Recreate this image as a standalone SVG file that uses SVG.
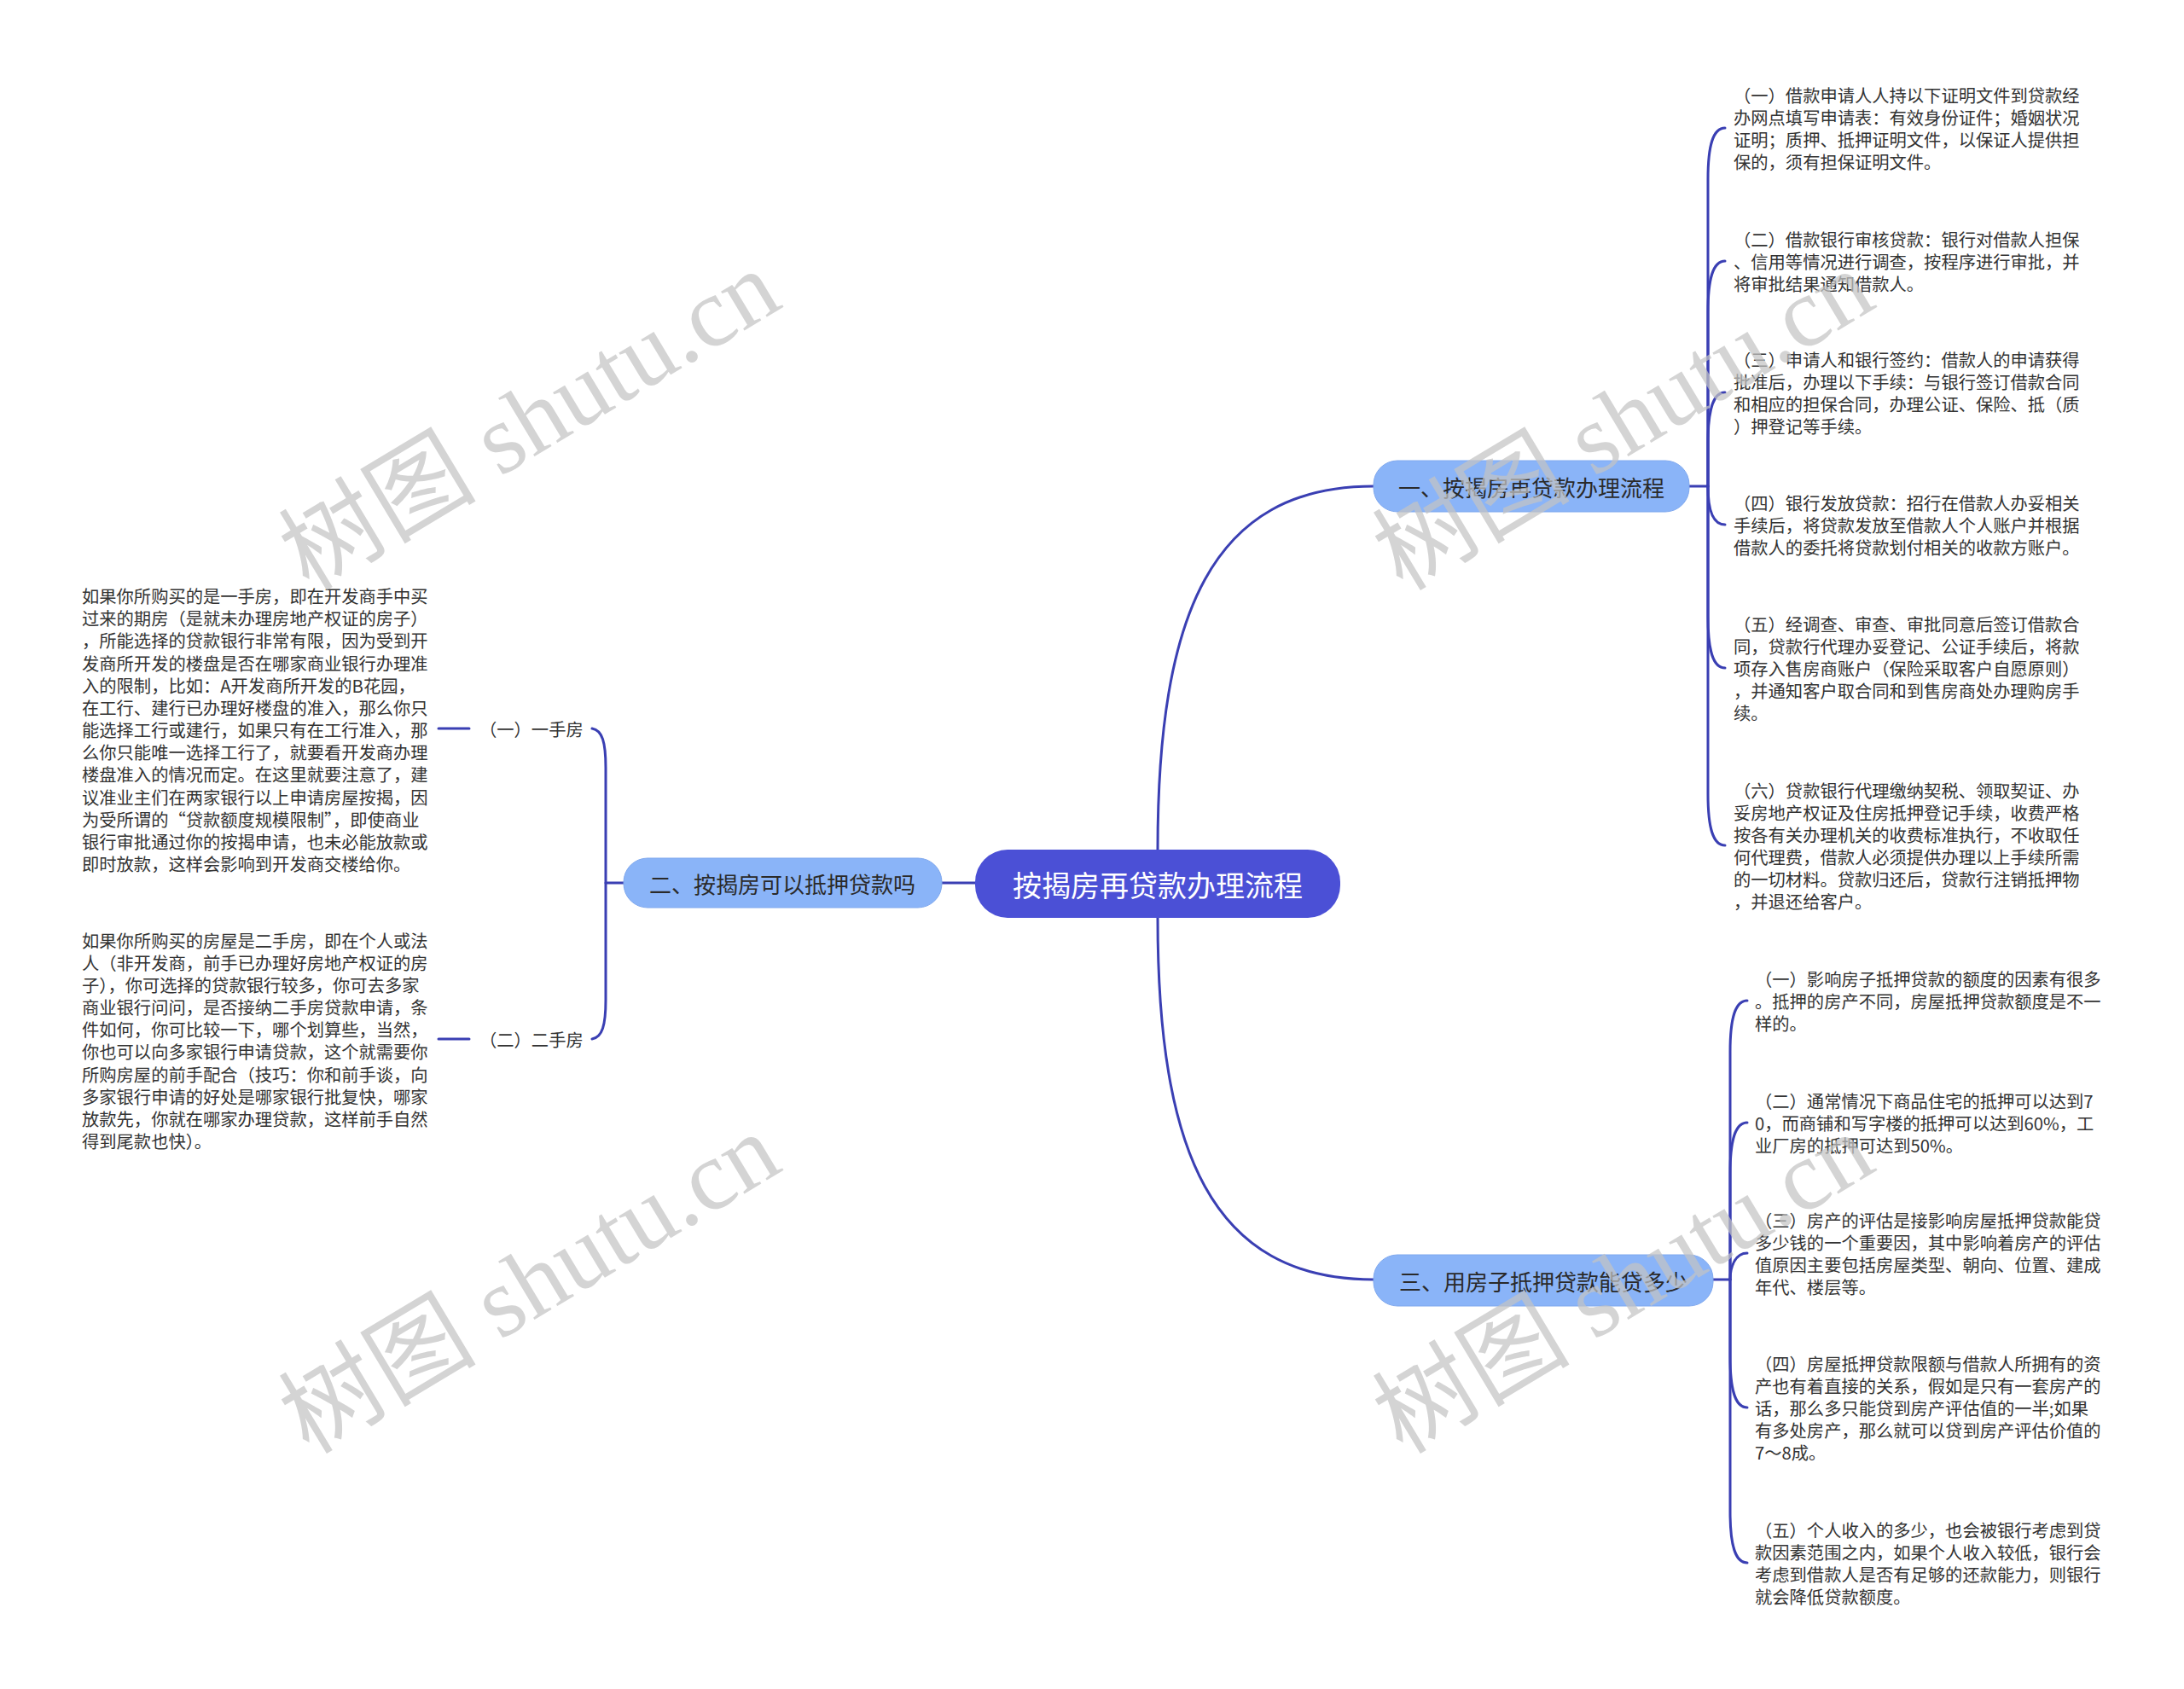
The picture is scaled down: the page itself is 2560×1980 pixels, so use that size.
<svg xmlns="http://www.w3.org/2000/svg" width="2560" height="1980" viewBox="0 0 2560 1980">
<style>
.conn{fill:none;stroke:#3a3fb3;stroke-width:3;stroke-linecap:round}
.t{font-family:"Noto Sans CJK SC","Noto Sans",sans-serif;fill:#333333;font-size:20.3px;dominant-baseline:central}
.root{fill:#4b50d6}
.br{fill:#8ab4f8;stroke:#7fa8ee;stroke-width:1}
.rt{font-family:"Noto Sans CJK SC","Noto Sans",sans-serif;fill:#ffffff;font-size:34px;dominant-baseline:central;text-anchor:middle}
.bt{font-family:"Noto Sans CJK SC","Noto Sans",sans-serif;fill:#2a2a2a;font-size:26px;dominant-baseline:central;text-anchor:middle}
.wm{font-family:"Liberation Serif","Noto Sans CJK SC",serif;font-size:116px;fill:#c4c4c4;opacity:0.72}
</style>
<rect width="2560" height="1980" fill="#ffffff"/>
<g id="connectors">
<path class="conn" d="M1357 996 C1357 720 1420 570 1610 570"/>
<path class="conn" d="M1357 1076 C1357 1350 1420 1500 1610 1500"/>
<path class="conn" d="M1143 1035 L1104 1035"/>
<path class="conn" d="M731 1035 L710 1035"/>
<path class="conn" d="M694 854 C706 856 710 870 710 900 L710 1172 C710 1202 706 1216 694 1218"/>
<path class="conn" d="M514 854 L550 854"/>
<path class="conn" d="M514 1218 L550 1218"/>
<path class="conn" d="M1980 570 L2002 570"/>
<path class="conn" d="M2002 570 L2002 210 C2002 170 2008 150 2022 150"/>
<path class="conn" d="M2002 570 L2002 366 C2002 326 2008 306 2022 306"/>
<path class="conn" d="M2002 570 L2002 520 C2002 480 2008 460 2022 460"/>
<path class="conn" d="M2002 570 C2002 600 2008 615 2022 615"/>
<path class="conn" d="M2002 570 L2002 723 C2002 763 2008 783 2022 783"/>
<path class="conn" d="M2002 570 L2002 931 C2002 971 2008 991 2022 991"/>
<path class="conn" d="M2008 1500 L2028 1500"/>
<path class="conn" d="M2028 1500 L2028 1233 C2028 1193 2034 1173 2048 1173"/>
<path class="conn" d="M2028 1500 L2028 1376 C2028 1336 2034 1316 2048 1316"/>
<path class="conn" d="M2028 1500 C2028 1485 2034 1469 2048 1469"/>
<path class="conn" d="M2028 1500 L2028 1590 C2028 1630 2034 1650 2048 1650"/>
<path class="conn" d="M2028 1500 L2028 1772 C2028 1812 2034 1832 2048 1832"/>
</g>
<g id="root">
<rect class="root" x="1143" y="996" width="428" height="80" rx="38"/>
<text class="rt" x="1357" y="1036">按揭房再贷款办理流程</text>
</g>
<g id="branch1">
<rect class="br" x="1610" y="540" width="370" height="60" rx="28"/>
<text class="bt" x="1795" y="570">一、按揭房再贷款办理流程</text>
</g>
<g id="branch2">
<rect class="br" x="731" y="1006" width="373" height="58" rx="28"/>
<text class="bt" x="917" y="1035">二、按揭房可以抵押贷款吗</text>
</g>
<g id="branch3">
<rect class="br" x="1610" y="1471" width="398" height="60" rx="28"/>
<text class="bt" x="1809" y="1501">三、用房子抵押贷款能贷多少</text>
</g>
<g id="label-yishoufang"><text class="t" x="562" y="854">（一）一手房</text></g>
<g id="label-ershoufang"><text class="t" x="562" y="1218">（二）二手房</text></g>
<g id="text-yishoufang">
<text class="t">
<tspan x="96" y="698">如果你所购买的是一手房，即在开发商手中买</tspan>
<tspan x="96" y="724">过来的期房（是就未办理房地产权证的房子）</tspan>
<tspan x="96" y="750">，所能选择的贷款银行非常有限，因为受到开</tspan>
<tspan x="96" y="777">发商所开发的楼盘是否在哪家商业银行办理准</tspan>
<tspan x="96" y="803">入的限制，比如：A开发商所开发的B花园，</tspan>
<tspan x="96" y="829">在工行、建行已办理好楼盘的准入，那么你只</tspan>
<tspan x="96" y="855">能选择工行或建行，如果只有在工行准入，那</tspan>
<tspan x="96" y="881">么你只能唯一选择工行了，就要看开发商办理</tspan>
<tspan x="96" y="907">楼盘准入的情况而定。在这里就要注意了，建</tspan>
<tspan x="96" y="934">议准业主们在两家银行以上申请房屋按揭，因</tspan>
<tspan x="96" y="960">为受所谓的“贷款额度规模限制”，即使商业</tspan>
<tspan x="96" y="986">银行审批通过你的按揭申请，也未必能放款或</tspan>
<tspan x="96" y="1012">即时放款，这样会影响到开发商交楼给你。</tspan>
</text>
</g>
<g id="text-ershoufang">
<text class="t">
<tspan x="96" y="1102">如果你所购买的房屋是二手房，即在个人或法</tspan>
<tspan x="96" y="1128">人（非开发商，前手已办理好房地产权证的房</tspan>
<tspan x="96" y="1154">子），你可选择的贷款银行较多，你可去多家</tspan>
<tspan x="96" y="1180">商业银行问问，是否接纳二手房贷款申请，条</tspan>
<tspan x="96" y="1206">件如何，你可比较一下，哪个划算些，当然，</tspan>
<tspan x="96" y="1232">你也可以向多家银行申请贷款，这个就需要你</tspan>
<tspan x="96" y="1259">所购房屋的前手配合（技巧：你和前手谈，向</tspan>
<tspan x="96" y="1285">多家银行申请的好处是哪家银行批复快，哪家</tspan>
<tspan x="96" y="1311">放款先，你就在哪家办理贷款，这样前手自然</tspan>
<tspan x="96" y="1337">得到尾款也快）。</tspan>
</text>
</g>
<g id="b1-c1">
<text class="t">
<tspan x="2032" y="111">（一）借款申请人人持以下证明文件到贷款经</tspan>
<tspan x="2032" y="137">办网点填写申请表：有效身份证件；婚姻状况</tspan>
<tspan x="2032" y="163">证明；质押、抵押证明文件，以保证人提供担</tspan>
<tspan x="2032" y="189">保的，须有担保证明文件。</tspan>
</text>
</g>
<g id="b1-c2">
<text class="t">
<tspan x="2032" y="280">（二）借款银行审核贷款：银行对借款人担保</tspan>
<tspan x="2032" y="306">、信用等情况进行调查，按程序进行审批，并</tspan>
<tspan x="2032" y="332">将审批结果通知借款人。</tspan>
</text>
</g>
<g id="b1-c3">
<text class="t">
<tspan x="2032" y="421">（三）申请人和银行签约：借款人的申请获得</tspan>
<tspan x="2032" y="447">批准后，办理以下手续：与银行签订借款合同</tspan>
<tspan x="2032" y="473">和相应的担保合同，办理公证、保险、抵（质</tspan>
<tspan x="2032" y="499">）押登记等手续。</tspan>
</text>
</g>
<g id="b1-c4">
<text class="t">
<tspan x="2032" y="589">（四）银行发放贷款：招行在借款人办妥相关</tspan>
<tspan x="2032" y="615">手续后，将贷款发放至借款人个人账户并根据</tspan>
<tspan x="2032" y="641">借款人的委托将贷款划付相关的收款方账户。</tspan>
</text>
</g>
<g id="b1-c5">
<text class="t">
<tspan x="2032" y="731">（五）经调查、审查、审批同意后签订借款合</tspan>
<tspan x="2032" y="757">同，贷款行代理办妥登记、公证手续后，将款</tspan>
<tspan x="2032" y="783">项存入售房商账户（保险采取客户自愿原则）</tspan>
<tspan x="2032" y="809">，并通知客户取合同和到售房商处办理购房手</tspan>
<tspan x="2032" y="835">续。</tspan>
</text>
</g>
<g id="b1-c6">
<text class="t">
<tspan x="2032" y="926">（六）贷款银行代理缴纳契税、领取契证、办</tspan>
<tspan x="2032" y="952">妥房地产权证及住房抵押登记手续，收费严格</tspan>
<tspan x="2032" y="978">按各有关办理机关的收费标准执行，不收取任</tspan>
<tspan x="2032" y="1004">何代理费，借款人必须提供办理以上手续所需</tspan>
<tspan x="2032" y="1030">的一切材料。贷款归还后，贷款行注销抵押物</tspan>
<tspan x="2032" y="1056">，并退还给客户。</tspan>
</text>
</g>
<g id="b3-c1">
<text class="t">
<tspan x="2057" y="1147">（一）影响房子抵押贷款的额度的因素有很多</tspan>
<tspan x="2057" y="1173">。抵押的房产不同，房屋抵押贷款额度是不一</tspan>
<tspan x="2057" y="1199">样的。</tspan>
</text>
</g>
<g id="b3-c2">
<text class="t">
<tspan x="2057" y="1290">（二）通常情况下商品住宅的抵押可以达到7</tspan>
<tspan x="2057" y="1316">0，而商铺和写字楼的抵押可以达到60%，工</tspan>
<tspan x="2057" y="1342">业厂房的抵押可达到50%。</tspan>
</text>
</g>
<g id="b3-c3">
<text class="t">
<tspan x="2057" y="1430">（三）房产的评估是接影响房屋抵押贷款能贷</tspan>
<tspan x="2057" y="1456">多少钱的一个重要因，其中影响着房产的评估</tspan>
<tspan x="2057" y="1482">值原因主要包括房屋类型、朝向、位置、建成</tspan>
<tspan x="2057" y="1508">年代、楼层等。</tspan>
</text>
</g>
<g id="b3-c4">
<text class="t">
<tspan x="2057" y="1598">（四）房屋抵押贷款限额与借款人所拥有的资</tspan>
<tspan x="2057" y="1624">产也有着直接的关系，假如是只有一套房产的</tspan>
<tspan x="2057" y="1650">话，那么多只能贷到房产评估值的一半;如果</tspan>
<tspan x="2057" y="1676">有多处房产，那么就可以贷到房产评估价值的</tspan>
<tspan x="2057" y="1702">7～8成。</tspan>
</text>
</g>
<g id="b3-c5">
<text class="t">
<tspan x="2057" y="1793">（五）个人收入的多少，也会被银行考虑到贷</tspan>
<tspan x="2057" y="1819">款因素范围之内，如果个人收入较低，银行会</tspan>
<tspan x="2057" y="1845">考虑到借款人是否有足够的还款能力，则银行</tspan>
<tspan x="2057" y="1871">就会降低贷款额度。</tspan>
</text>
</g>
<g id="watermarks">
<text class="wm" transform="translate(362 694) rotate(-31)">树图 shutu.cn</text>
<text class="wm" transform="translate(362 1706) rotate(-31)">树图 shutu.cn</text>
<text class="wm" transform="translate(1644 694) rotate(-31)">树图 shutu.cn</text>
<text class="wm" transform="translate(1644 1706) rotate(-31)">树图 shutu.cn</text>
</g>
</svg>
